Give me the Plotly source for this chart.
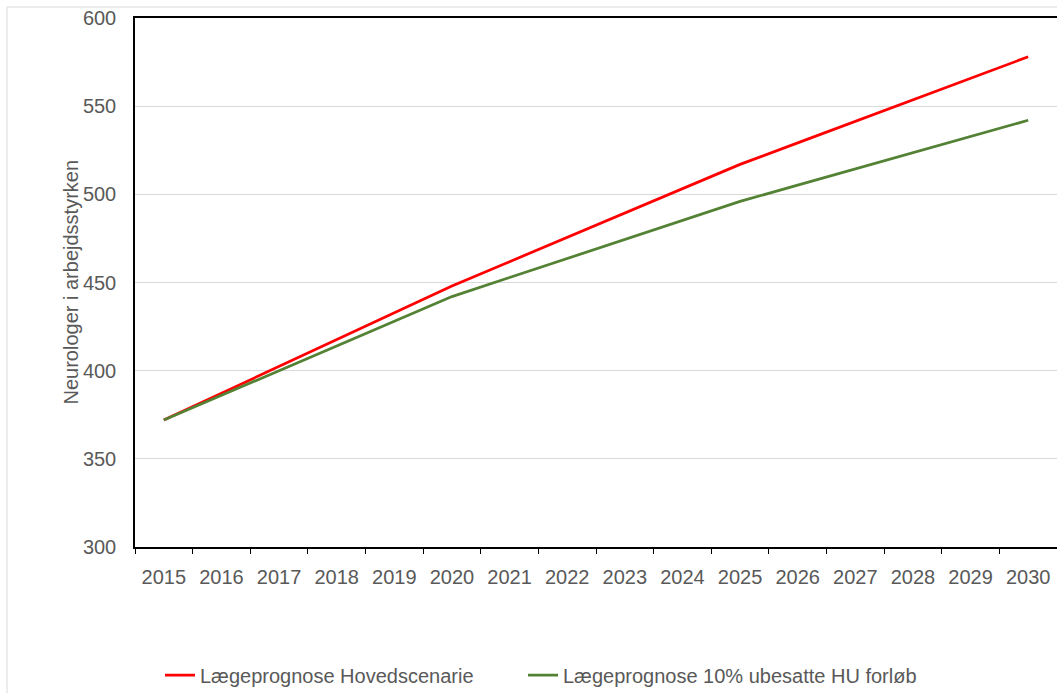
import plotly.graph_objects as go

years = [str(y) for y in range(2015, 2031)]
hovedscenarie = [372, 387.2, 402.4, 417.6, 432.8, 448, 461.8, 475.6, 489.4, 503.2,
                 517, 529.2, 541.4, 553.6, 565.8, 578]
ubesatte_10 = [372, 386, 400, 414, 428, 442, 452.8, 463.6, 474.4, 485.2,
               496, 505.2, 514.4, 523.6, 532.8, 542]

series_names = ["Lægeprognose Hovedscenarie", "Lægeprognose 10% ubesatte HU forløb"]
series_colors = ["#FF0000", "#548235"]

FONT = "Liberation Sans, Arial, sans-serif"
TXT = "#595959"

W, H = 1057, 693
L, T = 135, 18
PW, PH = W - L, 529
B = H - T - PH


def px_x(x):
    return (x - L) / PW


def px_y(y):
    return 1 - (y - T) / PH


fig = go.Figure()
for name, vals, col, lg in zip(series_names, [hovedscenarie, ubesatte_10], series_colors,
                               ["legend", "legend2"]):
    fig.add_trace(go.Scatter(x=years, y=vals, mode="lines", name=name, legend=lg,
                             line=dict(color=col, width=2.75)))

legend_common = dict(orientation="h", xanchor="left", y=px_y(675), yanchor="middle",
                     font=dict(family=FONT, size=20, color=TXT), bgcolor="rgba(0,0,0,0)")

fig.update_layout(
    width=W, height=H,
    margin=dict(l=L, r=0, t=T, b=B, autoexpand=False),
    paper_bgcolor="white", plot_bgcolor="white",
    font=dict(family=FONT, size=20, color=TXT),
    showlegend=True,
    legend=dict(x=px_x(160), **legend_common),
    legend2=dict(x=px_x(523), **legend_common),
)

fig.update_xaxes(type="category", range=[-0.5, len(years) - 0.5], showgrid=False, showline=True,
                 linecolor="black", linewidth=1.5, mirror=True, ticks="outside",
                 tickson="boundaries", ticklen=5, tickcolor="black", tickwidth=1,
                 ticklabelstandoff=11, tickfont=dict(size=20, color=TXT))
fig.update_yaxes(range=[300, 600], dtick=50, showgrid=True, gridcolor="#D9D9D9", gridwidth=1,
                 showline=True, linecolor="black", linewidth=1.5, ticks="", zeroline=False,
                 ticklabelstandoff=13, tickfont=dict(size=20, color=TXT))

fig.add_annotation(text="Neurologer i arbejdsstyrken", xref="paper", yref="paper",
                   x=px_x(70), y=0.5, xanchor="center", yanchor="middle",
                   textangle=-90, showarrow=False, font=dict(family=FONT, size=20, color=TXT))

# outer chart border
fig.add_shape(type="rect", xref="paper", yref="paper",
              x0=px_x(7), x1=px_x(1075), y0=px_y(710), y1=px_y(7),
              line=dict(color="#D9D9D9", width=1), layer="below")

fig.write_html("out.html", config={"displayModeBar": False},
               post_script="document.body.style.margin='0';")
